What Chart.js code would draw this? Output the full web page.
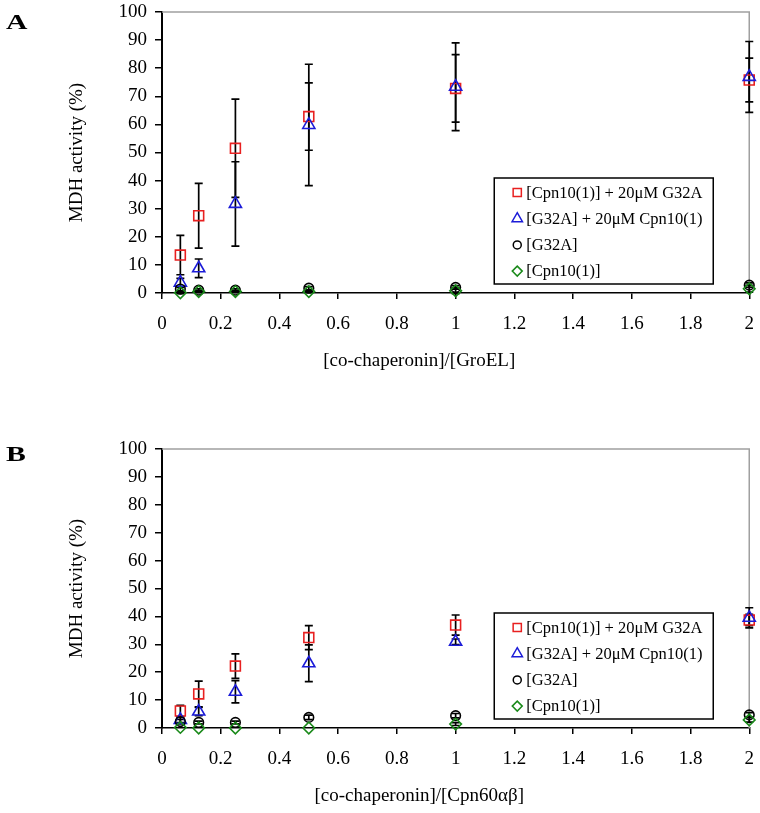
<!DOCTYPE html>
<html>
<head>
<meta charset="utf-8">
<script src="https://cdn.jsdelivr.net/npm/chart.js@4.4.0/dist/chart.umd.min.js"></script>
<style>
  body { margin: 0; background: #fff; width: 760px; height: 813px; position: relative; overflow: hidden; }
  canvas { position: absolute; left: 0; }
  #cA { top: -37px; }
  #cB { top: 400px; }
  .tag { position: absolute; left: 6px; font-family: "Liberation Serif", "Times New Roman", serif; font-weight: bold; font-size: 22px; line-height: 1; transform: scaleX(1.35); transform-origin: left top; z-index: 2; }
</style>
</head>
<body>
<div class="tag" style="top:11px">A</div>
<canvas id="cA" width="768" height="437"></canvas>
<div class="tag" style="top:443px">B</div>
<canvas id="cB" width="768" height="413"></canvas>
<script>
// ratio of co-chaperonin to chaperonin
const ratios = [0.0625, 0.125, 0.25, 0.5, 1, 2];

const labels = ['[Cpn10(1)] + 20μM G32A', '[G32A] + 20μM Cpn10(1)', '[G32A]', '[Cpn10(1)]'];

// panel A - GroEL
const aMix1 = [13.5, 27.5, 51.5, 62.8, 72.8, 75.8];
const aMix1Err = [7, 11.5, 17.5, 12, 12, 7.8];
const aMix2 = [3.7, 8.8, 31.7, 59.8, 73.4, 76.9];
const aMix2Err = [1.5, 3.3, 15, 21.6, 15.6, 12.6];
const aG32A = [1.4, 1, 1, 1.7, 2, 2.8];
const aG32AErr = [0.6, 0.5, 0.5, 0.6, 0.6, 0.8];
const aCpn10 = [0.1, 0.5, 0.5, 0.5, 0.8, 1.5];
const aCpn10Err = [0.3, 0.3, 0.3, 0.3, 1, 1.2];

// panel B - Cpn60ab
const bMix1 = [6.1, 12.2, 22.2, 32.4, 36.9, 38.7];
const bMix1Err = [2, 4.6, 4.4, 4.3, 3.6, 2];
const bMix2 = [2.9, 5.9, 13, 23.2, 30.9, 39.5];
const bMix2Err = [1, 1.5, 4, 6.6, 1, 3.6];
const bG32A = [2.3, 2, 2, 3.8, 4.4, 4.7];
const bG32AErr = [0.8, 0.5, 0.5, 0.8, 0.8, 0.8];
const bCpn10 = [0.2, 0, 0, 0, 1.4, 2.9];
const bCpn10Err = [0, 0, 0, 0, 0.5, 0.8];

const FONT = '"Liberation Serif", "Times New Roman", serif';
const RED = '#e82020', BLUE = '#1c1cd8', BLACK = '#000', GREEN = '#1a8a1a';

const pts = vals => vals.map((v, i) => ({ x: ratios[i], y: v }));

const errorBars = {
  id: 'errorBars',
  beforeDatasetsDraw(chart) {
    const { ctx, chartArea, scales: { x, y } } = chart;
    ctx.save();
    // grey frame on top and right
    ctx.strokeStyle = '#a0a0a0';
    ctx.lineWidth = 1.5;
    ctx.beginPath();
    ctx.moveTo(chartArea.left, chartArea.top);
    ctx.lineTo(chartArea.right, chartArea.top);
    ctx.lineTo(chartArea.right, chartArea.bottom);
    ctx.stroke();
    ctx.strokeStyle = '#000';
    ctx.lineWidth = 1.7;
    chart.data.datasets.forEach(ds => {
      ds.data.forEach((p, i) => {
        const e = ds.errors[i];
        if (!e) return;
        const px = x.getPixelForValue(p.x);
        const yt = y.getPixelForValue(p.y + e);
        const yb = y.getPixelForValue(p.y - e);
        ctx.beginPath();
        ctx.moveTo(px, yt); ctx.lineTo(px, yb);
        ctx.moveTo(px - 4, yt); ctx.lineTo(px + 4, yt);
        ctx.moveTo(px - 4, yb); ctx.lineTo(px + 4, yb);
        ctx.stroke();
      });
    });
    ctx.restore();
  }
};

// x axis title sits left of centre in the original, so draw it here
const xCaption = {
  id: 'xCaption',
  afterDraw(chart, args, opts) {
    const { ctx, chartArea } = chart;
    ctx.save();
    ctx.font = '19px ' + FONT;
    ctx.fillStyle = '#000';
    ctx.textAlign = 'center';
    ctx.textBaseline = 'middle';
    ctx.fillText(opts.text, chartArea.left + 0.438 * (chartArea.right - chartArea.left), chartArea.bottom + 68);
    ctx.restore();
  }
};

const boxLegend = {
  id: 'boxLegend',
  afterDraw(chart) {
    const { ctx, chartArea } = chart;
    const w = 219, h = 106;
    const x0 = chartArea.right - 36 - w;
    const y0 = chartArea.bottom - 9 - h;
    ctx.save();
    ctx.fillStyle = '#fff';
    ctx.fillRect(x0, y0, w, h);
    ctx.strokeStyle = '#000';
    ctx.lineWidth = 1.5;
    ctx.strokeRect(x0, y0, w, h);
    ctx.font = '16.5px ' + FONT;
    ctx.textBaseline = 'middle';
    chart.data.datasets.forEach((ds, i) => {
      const yy = y0 + 14.5 + i * 26.2;
      ctx.strokeStyle = ds.borderColor;
      ctx.fillStyle = 'rgba(0,0,0,0)';
      ctx.lineWidth = 1.5;
      Chart.helpers.drawPoint(ctx, { pointStyle: ds.pointStyle, radius: ds.legendRadius, rotation: 0, borderWidth: 1.5 }, x0 + 23, yy);
      ctx.fillStyle = '#000';
      ctx.fillText(ds.label, x0 + 32, yy + 1);
    });
    ctx.restore();
  }
};

function makeSet(label, vals, errs, color, style, r, lr, order) {
  return {
    label: label,
    data: pts(vals),
    errors: errs,
    borderColor: color,
    backgroundColor: 'rgba(0,0,0,0)',
    pointStyle: style,
    pointRadius: r,
    pointBorderWidth: 1.6,
    legendRadius: lr,
    showLine: false,
    clip: false,
    order: order
  };
}

function makeChart(id, sets, xTitle, topPad, xAxisH) {
  const font = { family: FONT, size: 19 };
  return new Chart(document.getElementById(id), {
    type: 'scatter',
    data: {
      datasets: [
        makeSet(labels[0], sets[0], sets[1], RED, 'rect', 7, 5.8, 3),
        makeSet(labels[1], sets[2], sets[3], BLUE, 'triangle', 7, 6, 2),
        makeSet(labels[2], sets[4], sets[5], BLACK, 'circle', 4.8, 4, 1),
        makeSet(labels[3], sets[6], sets[7], GREEN, 'rectRot', 5.8, 5, 0)
      ]
    },
    options: {
      responsive: false,
      animation: false,
      layout: { padding: { top: topPad, right: 0, left: 0, bottom: 0 } },
      plugins: { legend: { display: false }, tooltip: { enabled: false }, xCaption: { text: xTitle } },
      scales: {
        x: {
          type: 'linear', min: 0, max: 2,
          ticks: {
            stepSize: 0.2, color: '#000', font: font, padding: 14, maxRotation: 0, autoSkip: false,
            callback: v => String(Number(v.toFixed(1)))
          },
          grid: { drawOnChartArea: false, drawTicks: true, tickLength: 6, color: '#000', lineWidth: 1.5 },
          border: { color: '#000', width: 1.5 },
          afterFit(s) { s.height = xAxisH; }
        },
        y: {
          min: 0, max: 100,
          ticks: { stepSize: 10, color: '#000', font: font, padding: 8 },
          grid: { drawOnChartArea: false, drawTicks: true, tickLength: 7, color: '#000', lineWidth: 1.5 },
          border: { color: '#000', width: 2 },
          title: { display: true, text: 'MDH activity (%)', color: '#000', font: font, padding: { top: 65.6, bottom: 0 } },
          afterFit(s) { s.width = 162; }
        }
      }
    },
    plugins: [errorBars, xCaption, boxLegend]
  });
}

makeChart('cA', [aMix1, aMix1Err, aMix2, aMix2Err, aG32A, aG32AErr, aCpn10, aCpn10Err],
  '[co-chaperonin]/[GroEL]', 49, 107);
makeChart('cB', [bMix1, bMix1Err, bMix2, bMix2Err, bG32A, bG32AErr, bCpn10, bCpn10Err],
  '[co-chaperonin]/[Cpn60αβ]', 49, 85);
</script>
</body>
</html>
